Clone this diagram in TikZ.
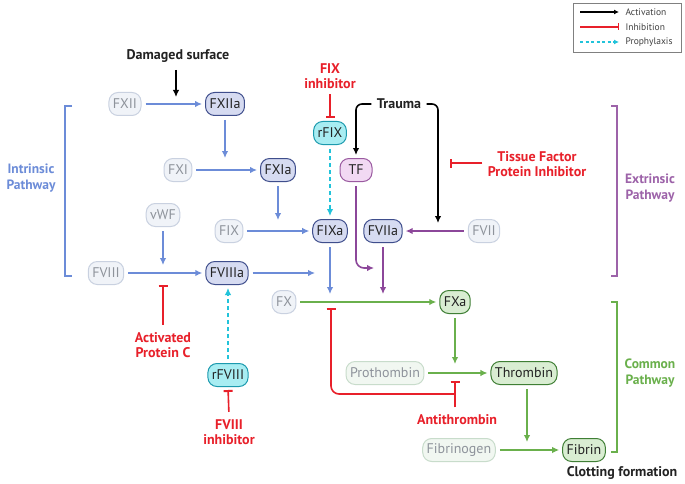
\documentclass[tikz,border=0pt]{standalone}
\usepackage{fontspec}
\setmainfont{PT Sans}
\usetikzlibrary{arrows.meta}
\definecolor{inactf}{HTML}{F0F3F8}
\definecolor{inactb}{HTML}{C9D1E0}
\definecolor{inactt}{HTML}{8E939B}
\definecolor{inactgf}{HTML}{F1F7F1}
\definecolor{inactgb}{HTML}{C8DCCB}
\definecolor{actbf}{HTML}{D6DBF1}
\definecolor{actbb}{HTML}{3F4E8C}
\definecolor{actgf}{HTML}{D9EDD2}
\definecolor{actgb}{HTML}{3F7F35}
\definecolor{tff}{HTML}{F2D9F3}
\definecolor{tfb}{HTML}{9A5AA0}
\definecolor{cyf}{HTML}{A8EDF2}
\definecolor{cyb}{HTML}{1C9AAE}
\definecolor{bluec}{HTML}{6C8CD8}
\definecolor{purc}{HTML}{8C479A}
\definecolor{grnc}{HTML}{6AB04C}
\definecolor{redc}{HTML}{E8202A}
\definecolor{cyanc}{HTML}{22C3DA}
\definecolor{txt}{HTML}{222222}
\tikzset{
  box/.style={rounded corners=9pt, minimum height=23pt, inner xsep=4pt, inner ysep=2pt, line width=1pt, font=\fontsize{14}{16}\selectfont},
  inact/.style={box, draw=inactb, fill=inactf, text=inactt},
  inactg/.style={box, draw=inactgb, fill=inactgf, text=inactt},
  actb/.style={box, draw=actbb, fill=actbf, text=txt},
  actg/.style={box, draw=actgb, fill=actgf, text=txt},
  tfnode/.style={box, draw=tfb, fill=tff, text=txt, minimum width=32pt},
  cynode/.style={box, draw=cyb, fill=cyf, text=txt},
  blab/.style={font=\bfseries\fontsize{14}{15}\selectfont, text=txt, align=center},
  rlab/.style={font=\bfseries\fontsize{14}{15}\selectfont, text=redc, align=center},
  plab/.style={font=\bfseries\fontsize{13.5}{15.5}\selectfont, align=center},
  tipa/.tip={Latex[length=7pt,width=6.5pt]},
  conn/.style={line width=1.6pt, shorten <=4pt, shorten >=3pt},
  barr/.style={conn, draw=bluec, -tipa},
  parr/.style={conn, draw=purc, -tipa},
  garr/.style={conn, draw=grnc, -tipa},
  karr/.style={conn, draw=black, -tipa},
  rinh/.style={conn, draw=redc, -{Bar[width=9pt,line width=2pt]}},
  cdash/.style={conn, draw=cyanc, dash pattern=on 4pt off 3pt, -tipa},
  brk/.style={line width=1.1pt}
}
\begin{document}
\begin{tikzpicture}[x=1pt,y=-1pt]
\useasboundingbox (0,0) rectangle (685,484);
\fill[white] (0,0) rectangle (685,484);

% nodes
\node[inact] (fxii) at (125,104) {FXII};
\node[actb] (fxiia) at (225,104) {FXIIa};
\node[inact] (fxi) at (178,170) {FXI};
\node[actb] (fxia) at (278,170) {FXIa};
\node[inact] (vwf) at (163,215) {vWF};
\node[inact] (fix) at (229,231) {FIX};
\node[actb] (fixa) at (330,231) {FIXa};
\node[actb] (fviia) at (383,231) {FVIIa};
\node[inact] (fvii) at (484,231) {FVII};
\node[inact] (fviii) at (106,273) {FVIII};
\node[actb] (fviiia) at (227,273) {FVIIIa};
\node[tfnode] (tf) at (356,170) {TF};
\node[cynode] (rfix) at (330,133) {rFIX};
\node[inact] (fx) at (284,302) {FX};
\node[actg] (fxa) at (455,302) {FXa};
\node[inactg] (proth) at (385,373) {Prothombin};
\node[actg] (thr) at (524,373) {Thrombin};
\node[inactg] (fibg) at (459,450) {Fibrinogen};
\node[actg] (fib) at (584,450) {Fibrin};
\node[cynode] (rfviii) at (228,375) {rFVIII};

% labels
\node[blab] (dmg) at (178,56) {Damaged surface};
\node[rlab] (fixinh) at (330,76) {FIX\\inhibitor};
\node[blab] (trauma) at (399,104) {Trauma};
\node[rlab] (tfpi) at (537,164) {Tissue Factor\\Protein Inhibitor};
\node[rlab] (apc) at (163,345) {Activated\\Protein C};
\node[rlab] (f8inh) at (229,432) {FVIII\\inhibitor};
\node[rlab] (at) at (457,420) {Antithrombin};
\node[blab] (clot) at (622,473) {Clotting formation};
\node[plab, text=bluec] (intr) at (31,178) {Intrinsic\\Pathway};
\node[plab, text=purc!85] (extr) at (650,188) {Extrinsic\\Pathway};
\node[plab, text=grnc] (comm) at (650,373) {Common\\Pathway};

% coordinates
\coordinate (dmgend) at (176,100);
\coordinate (c1) at (225,161);
\coordinate (c2) at (278,223);
\coordinate (c3) at (163,268);
\coordinate (c4) at (318,273);
\coordinate (c5) at (330,297);
\coordinate (c6) at (377,268);
\coordinate (c7) at (383,297);
\coordinate (c8) at (455,367);
\coordinate (c9) at (527,445);
\coordinate (c10) at (438,226);
\coordinate (c11) at (447,163);
\coordinate (c12) at (163,282);
\coordinate (c13) at (331,308);
\coordinate (c14) at (455,378);
\coordinate (atj) at (455,394);

% blue
\draw[barr] (fxii) -- (fxiia);
\draw[barr] (fxiia) -- (c1);
\draw[barr] (fxi) -- (fxia);
\draw[barr] (fxia) -- (c2);
\draw[barr] (fix) -- (fixa);
\draw[barr] (vwf) -- (c3);
\draw[barr] (fviii) -- (fviiia);
\draw[barr] (fviiia) -- (c4);
\draw[barr] (fixa) -- (c5);
% purple
\draw[parr] (fvii) -- (fviia);
\draw[parr, rounded corners=8pt] (tf.south) |- (c6);
\draw[parr] (fviia) -- (c7);
% green
\draw[garr] (fx) -- (fxa);
\draw[garr] (fxa) -- (c8);
\draw[garr] (proth) -- (thr);
\draw[garr] (thr.south -| c9) -- (c9);
\draw[garr] (fibg) -- (fib);
% black
\draw[karr] (dmg.south -| dmgend) -- (dmgend);
\draw[karr, rounded corners=6pt, shorten <=2pt] (trauma.west) -| (tf.north);
\draw[karr, rounded corners=6pt, shorten <=2pt] (trauma.east) -| (c10);
% red
\draw[rinh, shorten <=2pt] (fixinh.south) -- (rfix.north);
\draw[rinh, shorten <=2pt] (tfpi.west |- c11) -- (c11);
\draw[rinh] (apc.north) -- (c12);
\draw[rinh] (f8inh.north) -- (rfviii.south);
\draw[rinh] (atj |- at.north) -- (c14);
\draw[rinh, rounded corners=8pt, shorten <=0pt, shorten >=0pt] (atj) -| (c13);
% cyan
\draw[cdash] (rfix) -- (fixa);
\draw[cdash] (rfviii.north) -- (rfviii.north |- fviiia.south);

% brackets
\draw[brk, bluec] (72,106) -- (65,106) -- (65,276) -- (72,276);
\draw[brk, purc!85] (611,106) -- (617,106) -- (617,276) -- (611,276);
\draw[brk, grnc] (611,302) -- (617,302) -- (617,452) -- (611,452);

% legend
\draw[line width=0.6pt, draw=gray] (573,3) rectangle (681,52);
\coordinate (l1a) at (580,12); \coordinate (l1b) at (619,12);
\coordinate (l2a) at (580,27); \coordinate (l2b) at (619,27);
\coordinate (l3a) at (580,42); \coordinate (l3b) at (619,42);
\draw[line width=1.3pt, -{Latex[length=5pt,width=5pt]}] (l1a) -- (l1b);
\draw[line width=1.3pt, redc, -{Bar[width=7pt,line width=1.5pt]}] (l2a) -- (l2b);
\draw[line width=1.3pt, cyanc, dash pattern=on 3pt off 2.5pt, -{Latex[length=5pt,width=5pt]}] (l3a) -- (l3b);
\node[anchor=west, font=\fontsize{9.5}{10}\selectfont, text=darkgray] (lt1) at (622,12) {Activation};
\node[anchor=west, font=\fontsize{9.5}{10}\selectfont, text=darkgray] (lt2) at (622,27) {Inhibition};
\node[anchor=west, font=\fontsize{9.5}{10}\selectfont, text=darkgray] (lt3) at (622,42) {Prophylaxis};
\end{tikzpicture}
\end{document}
